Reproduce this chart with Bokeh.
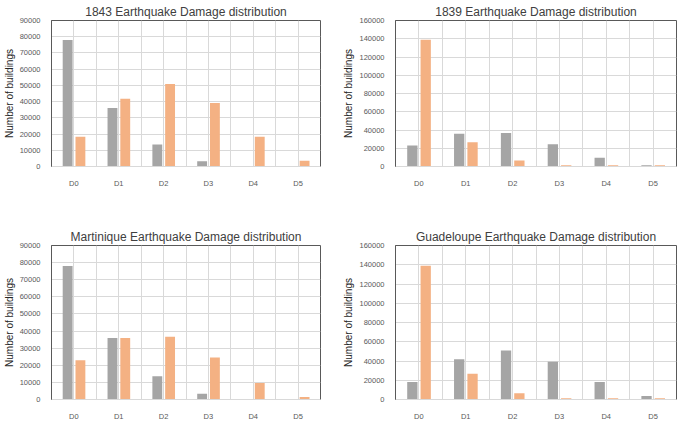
import numpy as np
from bokeh.plotting import figure
from bokeh.models import (ColumnDataSource, FixedTicker, SingleIntervalTicker, Legend,
                          LegendItem, BasicTickFormatter, Range1d)
from bokeh.layouts import row, column
from bokeh.transform import dodge
from bokeh.embed import file_html
from bokeh.resources import INLINE

# ---- data ----
categories = ["D0", "D1", "D2", "D3", "D4", "D5"]
martinique_1843 = [78000, 36000, 13600, 3300, 0, 0]
guadeloupe_1843 = [18300, 41800, 50800, 39200, 18300, 3600]
martinique_1839 = [23000, 36000, 36700, 24500, 9700, 1400]
guadeloupe_1839 = [139000, 26700, 6600, 1400, 1400, 1400]

GRAY = "#a5a5a5"
ORANGE = "#f4b183"
GRID = "#d9d9d9"


def make_panel(title, s1, s2, names, ymax, ystep, w, h, mbl, mbr, mbt, mbb,
               leg_spacing, leg_loc):
    x = np.arange(len(categories)) + 0.5
    src = ColumnDataSource(dict(x=x, a=s1, b=s2))
    p = figure(width=w, height=h, x_range=Range1d(0, len(categories)), y_range=Range1d(0, ymax),
               output_backend="svg", toolbar_location=None,
               min_border_left=mbl, min_border_right=mbr, min_border_top=mbt, min_border_bottom=mbb)
    r1 = p.vbar(x=dodge("x", -0.14), top="a", width=0.22, source=src, fill_color=GRAY, line_color=None)
    r2 = p.vbar(x=dodge("x", 0.145), top="b", width=0.22, source=src, fill_color=ORANGE, line_color=None)

    t = FixedTicker(ticks=[float(v) for v in x], minor_ticks=list(range(len(categories) + 1)))
    p.xaxis.ticker = t
    p.xgrid.ticker = t
    p.xaxis.major_label_overrides = {float(v): c for v, c in zip(x, categories)}
    p.xgrid.grid_line_color = GRID
    p.xgrid.minor_grid_line_color = GRID
    p.ygrid.grid_line_color = GRID

    yt = SingleIntervalTicker(interval=ystep)
    p.yaxis.ticker = yt
    p.ygrid.ticker = yt
    p.yaxis.formatter = BasicTickFormatter(use_scientific=False)

    for ax in (p.xaxis, p.yaxis):
        ax.major_tick_line_color = None
        ax.minor_tick_line_color = None
        ax.major_label_text_font_size = "7.5px"
        ax.major_label_text_color = "#595959"
    p.xaxis.axis_line_color = GRID
    p.yaxis.axis_line_color = "#595959"
    p.xaxis.major_label_standoff = 6
    p.yaxis.major_label_standoff = 5
    p.yaxis.axis_label = "Number of buildings"
    p.yaxis.axis_label_text_font_size = "10px"
    p.yaxis.axis_label_text_font_style = "normal"
    p.yaxis.axis_label_text_color = "#262626"
    p.yaxis.axis_label_standoff = 2

    p.outline_line_color = "#595959"

    p.title.text = title
    p.title.align = "center"
    p.title.text_font_size = "12px"
    p.title.text_font_style = "normal"
    p.title.text_color = "#404040"
    p.title.standoff = 4

    leg = Legend(items=[LegendItem(label=names[0], renderers=[r1]),
                        LegendItem(label=names[1], renderers=[r2])],
                 orientation="horizontal", location=leg_loc,
                 border_line_color=None, background_fill_alpha=0,
                 label_text_font_size="7.5px", label_text_color="#595959",
                 glyph_width=5, glyph_height=5, label_height=9, label_standoff=3,
                 spacing=leg_spacing, padding=0, margin=0)
    p.add_layout(leg)
    return p


p1 = make_panel("1843 Earthquake Damage distribution", martinique_1843, guadeloupe_1843,
                ["Martinique", "Guadeloupe"], 90000, 10000, 338, 215, 40, 18, 0, 49, 10, (69, -32))
p2 = make_panel("1839 Earthquake Damage distribution", martinique_1839, guadeloupe_1839,
                ["Martinique", "Guadeloupe"], 160000, 20000, 339, 215, 57, 1, 0, 49, 6, (70, -32))
p3 = make_panel("Martinique Earthquake Damage distribution", martinique_1843, martinique_1839,
                ["1943", "1939"], 90000, 10000, 338, 215, 40, 18, 30, 31, 26, (87, -29))
p4 = make_panel("Guadeloupe Earthquake Damage distribution", guadeloupe_1843, guadeloupe_1839,
                ["1943", "1939"], 160000, 20000, 339, 215, 57, 1, 30, 31, 26, (83, -29))

layout = column(row(p1, p2), row(p3, p4))
open("out.html", "w").write(file_html(layout, INLINE))
